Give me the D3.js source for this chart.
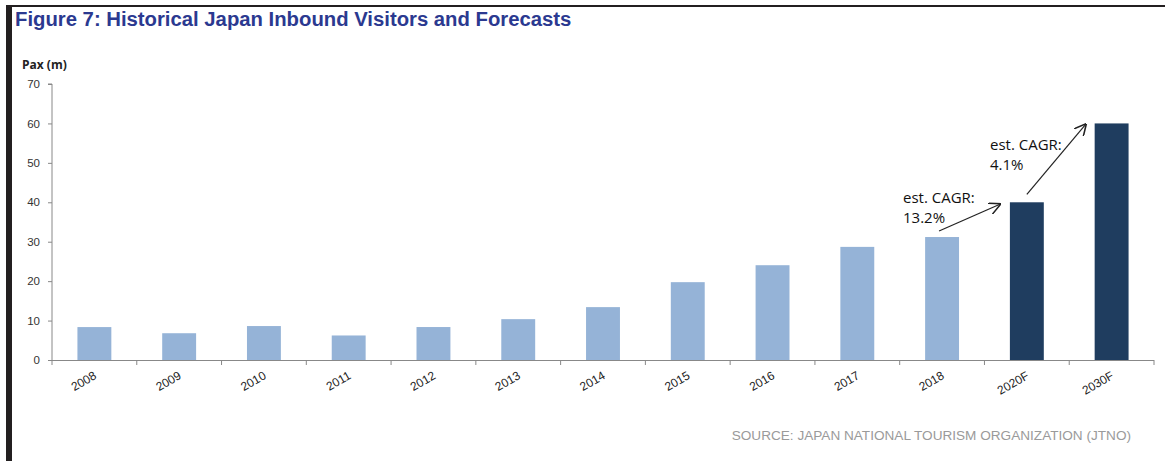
<!DOCTYPE html>
<html>
<head>
<meta charset="utf-8">
<script src="https://cdn.jsdelivr.net/npm/d3@7"></script>
<style>
  html, body { margin: 0; padding: 0; background: #fff; }
  svg { display: block; }
</style>
</head>
<body>
<svg id="chart" width="1165" height="461"></svg>
<script>
// Inbound visitors to Japan, millions of passengers
const years = ["2008", "2009", "2010", "2011", "2012", "2013", "2014", "2015", "2016", "2017", "2018", "2020F", "2030F"];
const visitors = [8.35, 6.79, 8.61, 6.22, 8.36, 10.36, 13.41, 19.74, 24.04, 28.69, 31.19, 40, 60];
const forecastYears = ["2020F", "2030F"];
const yTicks = [0, 10, 20, 30, 40, 50, 60, 70];

// CAGR call-outs: arrow runs from one bar towards the next
const cagrLabels = ["13.2%", "4.1%"];
const cagrFrom = ["2018", "2020F"];
const cagrTo = ["2020F", "2030F"];

const svg = d3.select("#chart");

// Frame: top rule and thick left bar
svg.append("rect").attr("x", 6).attr("y", 5).attr("width", 1159).attr("height", 2).attr("fill", "#231f20");
svg.append("rect").attr("x", 6).attr("y", 5).attr("width", 6).attr("height", 456).attr("fill", "#231f20");

svg.append("text")
  .attr("x", 15).attr("y", 26)
  .attr("font-family", "Liberation Sans, Arial, sans-serif")
  .attr("font-weight", "bold")
  .attr("font-size", 20.3)
  .attr("fill", "#2b3990")
  .text("Figure 7: Historical Japan Inbound Visitors and Forecasts");

const x = d3.scaleBand().domain(years).range([52, 1154]).paddingInner(0.6).paddingOuter(0.3);
const y = d3.scaleLinear().domain([0, 70]).range([360, 84]);

// Bars
svg.append("g").selectAll("rect")
  .data(years.map((yr, i) => ({ yr, v: visitors[i] })))
  .join("rect")
  .attr("x", d => x(d.yr))
  .attr("width", x.bandwidth())
  .attr("y", d => y(d.v))
  .attr("height", d => y(0) - y(d.v))
  .attr("fill", d => forecastYears.includes(d.yr) ? "#1f3d5f" : "#95b3d7");

// Y axis
const yAxis = svg.append("g")
  .attr("transform", "translate(52,0)")
  .call(d3.axisLeft(y).tickValues(yTicks).tickSize(4).tickPadding(8).tickFormat(d3.format("d")));
yAxis.select(".domain").attr("stroke", "#888").attr("d", `M-4,${y(70)}H0V${y(0)}`);
yAxis.selectAll(".tick line").attr("stroke", "#888");
yAxis.selectAll(".tick text")
  .attr("font-family", "Liberation Sans, Arial, sans-serif")
  .attr("font-size", 11.5).attr("fill", "#333");

// X axis: tick marks sit at category boundaries
const boundaries = d3.range(years.length + 1).map(i => 52 + i * (1154 - 52) / years.length);
const xg = svg.append("g");
xg.append("line").attr("x1", 52).attr("x2", 1154).attr("y1", 360.5).attr("y2", 360.5).attr("stroke", "#888");
xg.selectAll("line.tk").data(boundaries).join("line")
  .attr("class", "tk")
  .attr("x1", d => d).attr("x2", d => d)
  .attr("y1", 360).attr("y2", 365)
  .attr("stroke", "#888");
xg.selectAll("text").data(years).join("text")
  .attr("transform", d => `translate(${x(d) + x.bandwidth() / 2 + 3},${378}) rotate(-30)`)
  .attr("text-anchor", "end")
  .attr("font-family", "Liberation Sans, Arial, sans-serif")
  .attr("font-size", 12).attr("fill", "#222")
  .text(d => d);

// Axis title
svg.append("text")
  .attr("x", 22).attr("y", 69)
  .attr("font-family", "Open Sans, sans-serif")
  .attr("font-weight", "bold")
  .attr("font-size", 12).attr("fill", "#222")
  .text("Pax (m)");

// Arrow heads
svg.append("defs").append("marker")
  .attr("id", "head").attr("viewBox", "0 0 10 10")
  .attr("refX", 9).attr("refY", 5)
  .attr("markerWidth", 12).attr("markerHeight", 12)
  .attr("markerUnits", "userSpaceOnUse")
  .attr("orient", "auto")
  .append("path").attr("d", "M0,0L10,5L0,10").attr("fill", "none").attr("stroke", "#222").attr("stroke-width", 1.3);

// CAGR annotations
const arrows = [
  { from: [x(cagrFrom[0]) + x.bandwidth() / 2 - 3, y(visitors[years.indexOf(cagrFrom[0])]) - 6],
    to: [x(cagrTo[0]) - 10, y(visitors[years.indexOf(cagrTo[0])]) + 2],
    text: [903, 203] },
  { from: [x(cagrFrom[1]) + x.bandwidth() / 2, y(visitors[years.indexOf(cagrFrom[1])]) - 8],
    to: [x(cagrTo[1]) - 9, y(visitors[years.indexOf(cagrTo[1])]) + 1],
    text: [990, 150] }
];
arrows.forEach((a, i) => {
  svg.append("line")
    .attr("x1", a.from[0]).attr("y1", a.from[1])
    .attr("x2", a.to[0]).attr("y2", a.to[1])
    .attr("stroke", "#222").attr("stroke-width", 1.2)
    .attr("marker-end", "url(#head)");
  const t = svg.append("text")
    .attr("font-family", "Open Sans, sans-serif")
    .attr("font-size", 15).attr("fill", "#111");
  t.append("tspan").attr("x", a.text[0]).attr("y", a.text[1]).text("est. CAGR:");
  t.append("tspan").attr("x", a.text[0]).attr("y", a.text[1] + 20).text(cagrLabels[i]);
});

// Source line
svg.append("text")
  .attr("x", 1131).attr("y", 440)
  .attr("text-anchor", "end")
  .attr("font-family", "Liberation Sans, Arial, sans-serif")
  .attr("font-size", 13.6).attr("fill", "#9a9a9a")
  .text("SOURCE: JAPAN NATIONAL TOURISM ORGANIZATION (JTNO)");
</script>
</body>
</html>
